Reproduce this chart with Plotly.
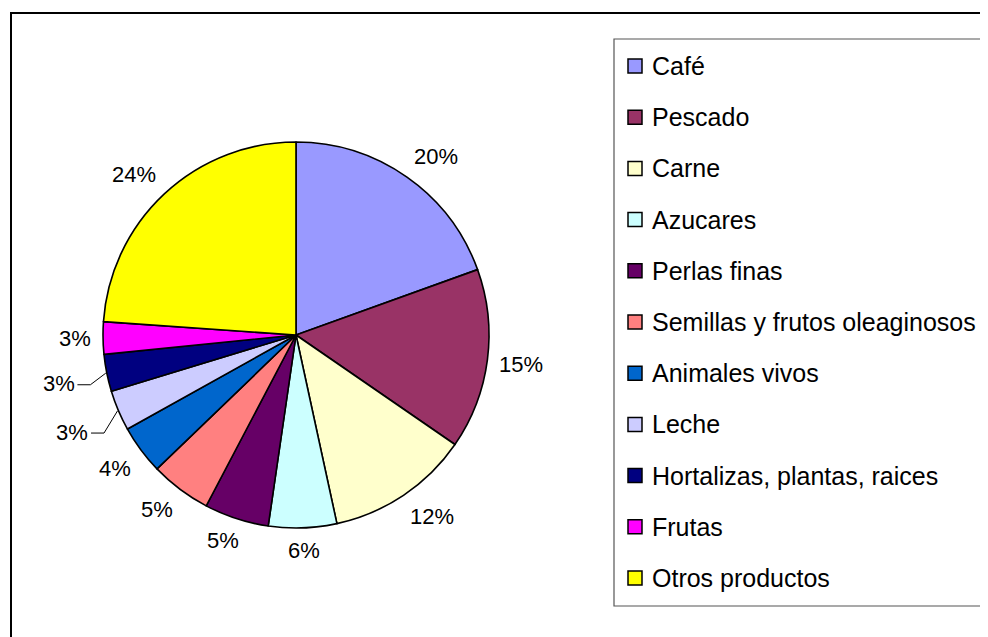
import math
import plotly.graph_objects as go

# ---------------- data ----------------
categories = [
    "Café", "Pescado", "Carne", "Azucares", "Perlas finas",
    "Semillas y frutos oleaginosos", "Animales vivos", "Leche",
    "Hortalizas, plantas, raices", "Frutas", "Otros productos",
]
shares = [19.5, 15.1, 12.0, 5.7, 5.4, 5.1, 4.1, 3.4, 3.1, 2.7, 23.9]
colors = [
    "#9999FF", "#993366", "#FFFFCC", "#CCFFFF", "#660066",
    "#FF8080", "#0066CC", "#CCCCFF", "#000080", "#FF00FF", "#FFFF00",
]
# labels pushed out with a leader line
pushed = {7, 8}

# ---------------- layout (pixels in the 988x637 window) ----------------
OFF = 8  # default page body margin
W, H = 988 - OFF, 637 - OFF
CX, CY, R = 296, 335, 193
FONT = "Arial, Liberation Sans, sans-serif"
LBL_SIZE = 22
CHAR_W = {"%": 0.889}


def px(x):
    return (x - OFF) / W


def py(y):
    return 1 - (y - OFF) / H


def clamp(t):
    return max(-1.0, min(1.0, t))


fig = go.Figure()
fig.add_trace(go.Pie(
    labels=categories,
    values=shares,
    sort=False,
    direction="clockwise",
    rotation=0,
    textinfo="none",
    marker=dict(colors=colors, line=dict(color="black", width=1.6)),
    domain=dict(x=[px(CX - R), px(CX + R)], y=[py(CY + R), py(CY - R)]),
    showlegend=False,
))

annotations = []
shapes = []

# outer chart frame
shapes.append(dict(type="rect", xref="paper", yref="paper",
                   x0=px(11), y0=-0.1, x1=1.1, y1=py(13),
                   line=dict(color="black", width=2), fillcolor="rgba(0,0,0,0)"))

# percentage labels (outside end, box edge placed at a gap from the rim)
total = sum(shares)
cum = 0.0
for i, v in enumerate(shares):
    mid = (cum + v / 2) / total * 2 * math.pi
    cum += v
    txt = f"{int(v / total * 100 + 0.5)}%"
    hw = sum(CHAR_W.get(ch, 0.556) for ch in txt) * LBL_SIZE / 2
    hh = 11
    d = R + (33 if i in pushed else 12)
    s, c = math.sin(mid), math.cos(mid)
    lx = CX + d * s + hw * clamp(2 * s)
    ly = CY - d * c - hh * clamp(2 * c)
    annotations.append(dict(
        x=px(lx), y=py(ly), xref="paper", yref="paper",
        text=txt, showarrow=False,
        xanchor="center", yanchor="middle",
        font=dict(family=FONT, size=LBL_SIZE, color="black"),
    ))
    if i in pushed:
        sx = CX + (R + 1) * s
        sy = CY - (R + 1) * c
        ex = lx + hw + 16
        endx = lx + hw + 3
        shapes.append(dict(
            type="path", xref="paper", yref="paper",
            path=f"M {px(sx)} {py(sy)} L {px(ex)} {py(ly + 1)} L {px(endx)} {py(ly + 1)}",
            line=dict(color="black", width=1),
        ))

# legend (manual, to match spacing)
shapes.append(dict(type="rect", xref="paper", yref="paper",
                   x0=px(614), y0=py(606), x1=px(1010), y1=py(39),
                   line=dict(color="#555555", width=1.2), fillcolor="white",
                   layer="below"))
for i, (name, col) in enumerate(zip(categories, colors)):
    yc = 66 + i * 51.2
    shapes.append(dict(type="rect", xref="paper", yref="paper",
                       x0=px(628), x1=px(642), y0=py(yc + 7), y1=py(yc - 7),
                       line=dict(color="black", width=1.5), fillcolor=col))
    annotations.append(dict(
        x=px(650), y=py(yc), xref="paper", yref="paper", text=name,
        showarrow=False, xanchor="left", yanchor="middle",
        font=dict(family=FONT, size=25, color="black"),
    ))

fig.update_layout(
    width=W, height=H,
    margin=dict(l=0, r=0, t=0, b=0),
    paper_bgcolor="white",
    plot_bgcolor="white",
    annotations=annotations,
    shapes=shapes,
)

fig.write_html("out.html")
